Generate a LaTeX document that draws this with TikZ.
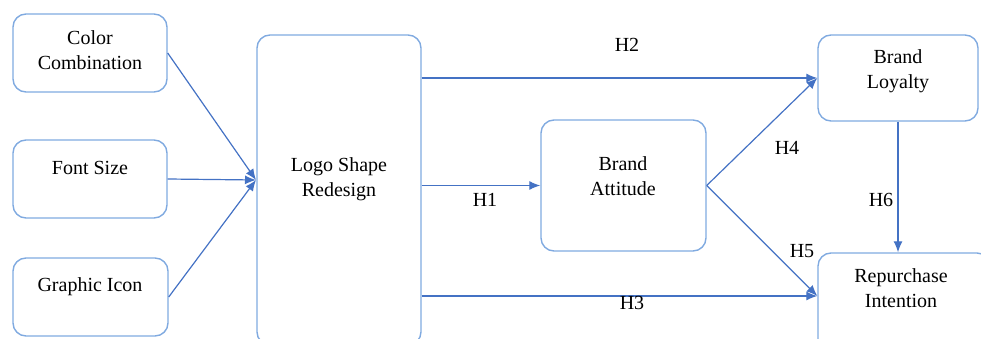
\documentclass[tikz,border=0pt]{standalone}
\usepackage{fontspec}
\setmainfont{Liberation Serif}
\usetikzlibrary{arrows.meta}
\definecolor{boxblue}{RGB}{128,170,224}
\definecolor{arrblue}{RGB}{68,114,196}
\begin{document}
\begin{tikzpicture}[x=1pt,y=-1pt,
            box/.style={draw=boxblue,line width=1.4pt,rounded corners=13pt,inner sep=0pt},
            txt/.style={align=center,inner sep=0pt,font=\rmfamily\fontsize{20}{25.5}\selectfont},
            arr/.style={draw=arrblue,line width=1.2pt,-{Latex[length=11pt,width=9pt]}}]
             \useasboundingbox (0,0) rectangle (981,339);
             \clip (0,0) rectangle (981,339);
             % boxes
             \node[box,minimum width=154,minimum height=78]  (color)  at (90,53)     {};
             \node[box,minimum width=154,minimum height=78]  (font)   at (90,179)    {};
             \node[box,minimum width=155,minimum height=78]  (icon)   at (90.5,297)  {};
             \node[box,minimum width=164,minimum height=310] (logo)   at (339,190)   {};
             \node[box,minimum width=165,minimum height=131] (att)    at (623.5,185.5) {};
             \node[box,minimum width=160,minimum height=86]  (loyal)  at (898,78)    {};
             \node[box,minimum width=172,minimum height=100] (rep)    at (904,303)   {};
             % texts
             \node[txt] (color-t) at (90,50)   {Color\\Combination};
             \node[txt] (font-t)  at (90,168)  {Font Size};
             \node[txt] (icon-t)  at (90,287)  {Graphic Icon};
             \node[txt] (logo-t)  at (339,179) {Logo Shape\\Redesign};
             \node[txt] (att-t)   at (623,176) {Brand\\Attitude};
             \node[txt] (loyal-t) at (898,71)  {Brand\\Loyalty};
             \node[txt] (rep-t)   at (901,288) {Repurchase\\Intention};
             % arrows
             \coordinate (logo-in) at (256,180);
             \coordinate (rep-in)  at ([yshift=7pt]rep.west);
             \draw[arr] (color.east) -- (logo-in);
             \draw[arr] (font.east)  -- (logo-in);
             \draw[arr] (icon.east)  -- (logo-in);
             \draw[arr] (logo.east |- loyal.west) -- (loyal.west);
             \draw[arr] (logo.east |- att.west)   -- (att.west);
             \draw[arr] (logo.east |- rep-in)     -- (rep-in);
             \draw[arr] (att.east) -- (loyal.west);
             \draw[arr] (att.east) -- (rep-in);
             \draw[arr] (loyal.south) -- (loyal.south |- rep.north);
             % labels
             \node[txt] (h1) at (485,200) {H1};
             \node[txt] (h2) at (627,45)  {H2};
             \node[txt] (h3) at (632,303) {H3};
             \node[txt] (h4) at (787,148) {H4};
             \node[txt] (h5) at (802,251) {H5};
             \node[txt] (h6) at (881,200) {H6};
        \end{tikzpicture}
\end{document}
